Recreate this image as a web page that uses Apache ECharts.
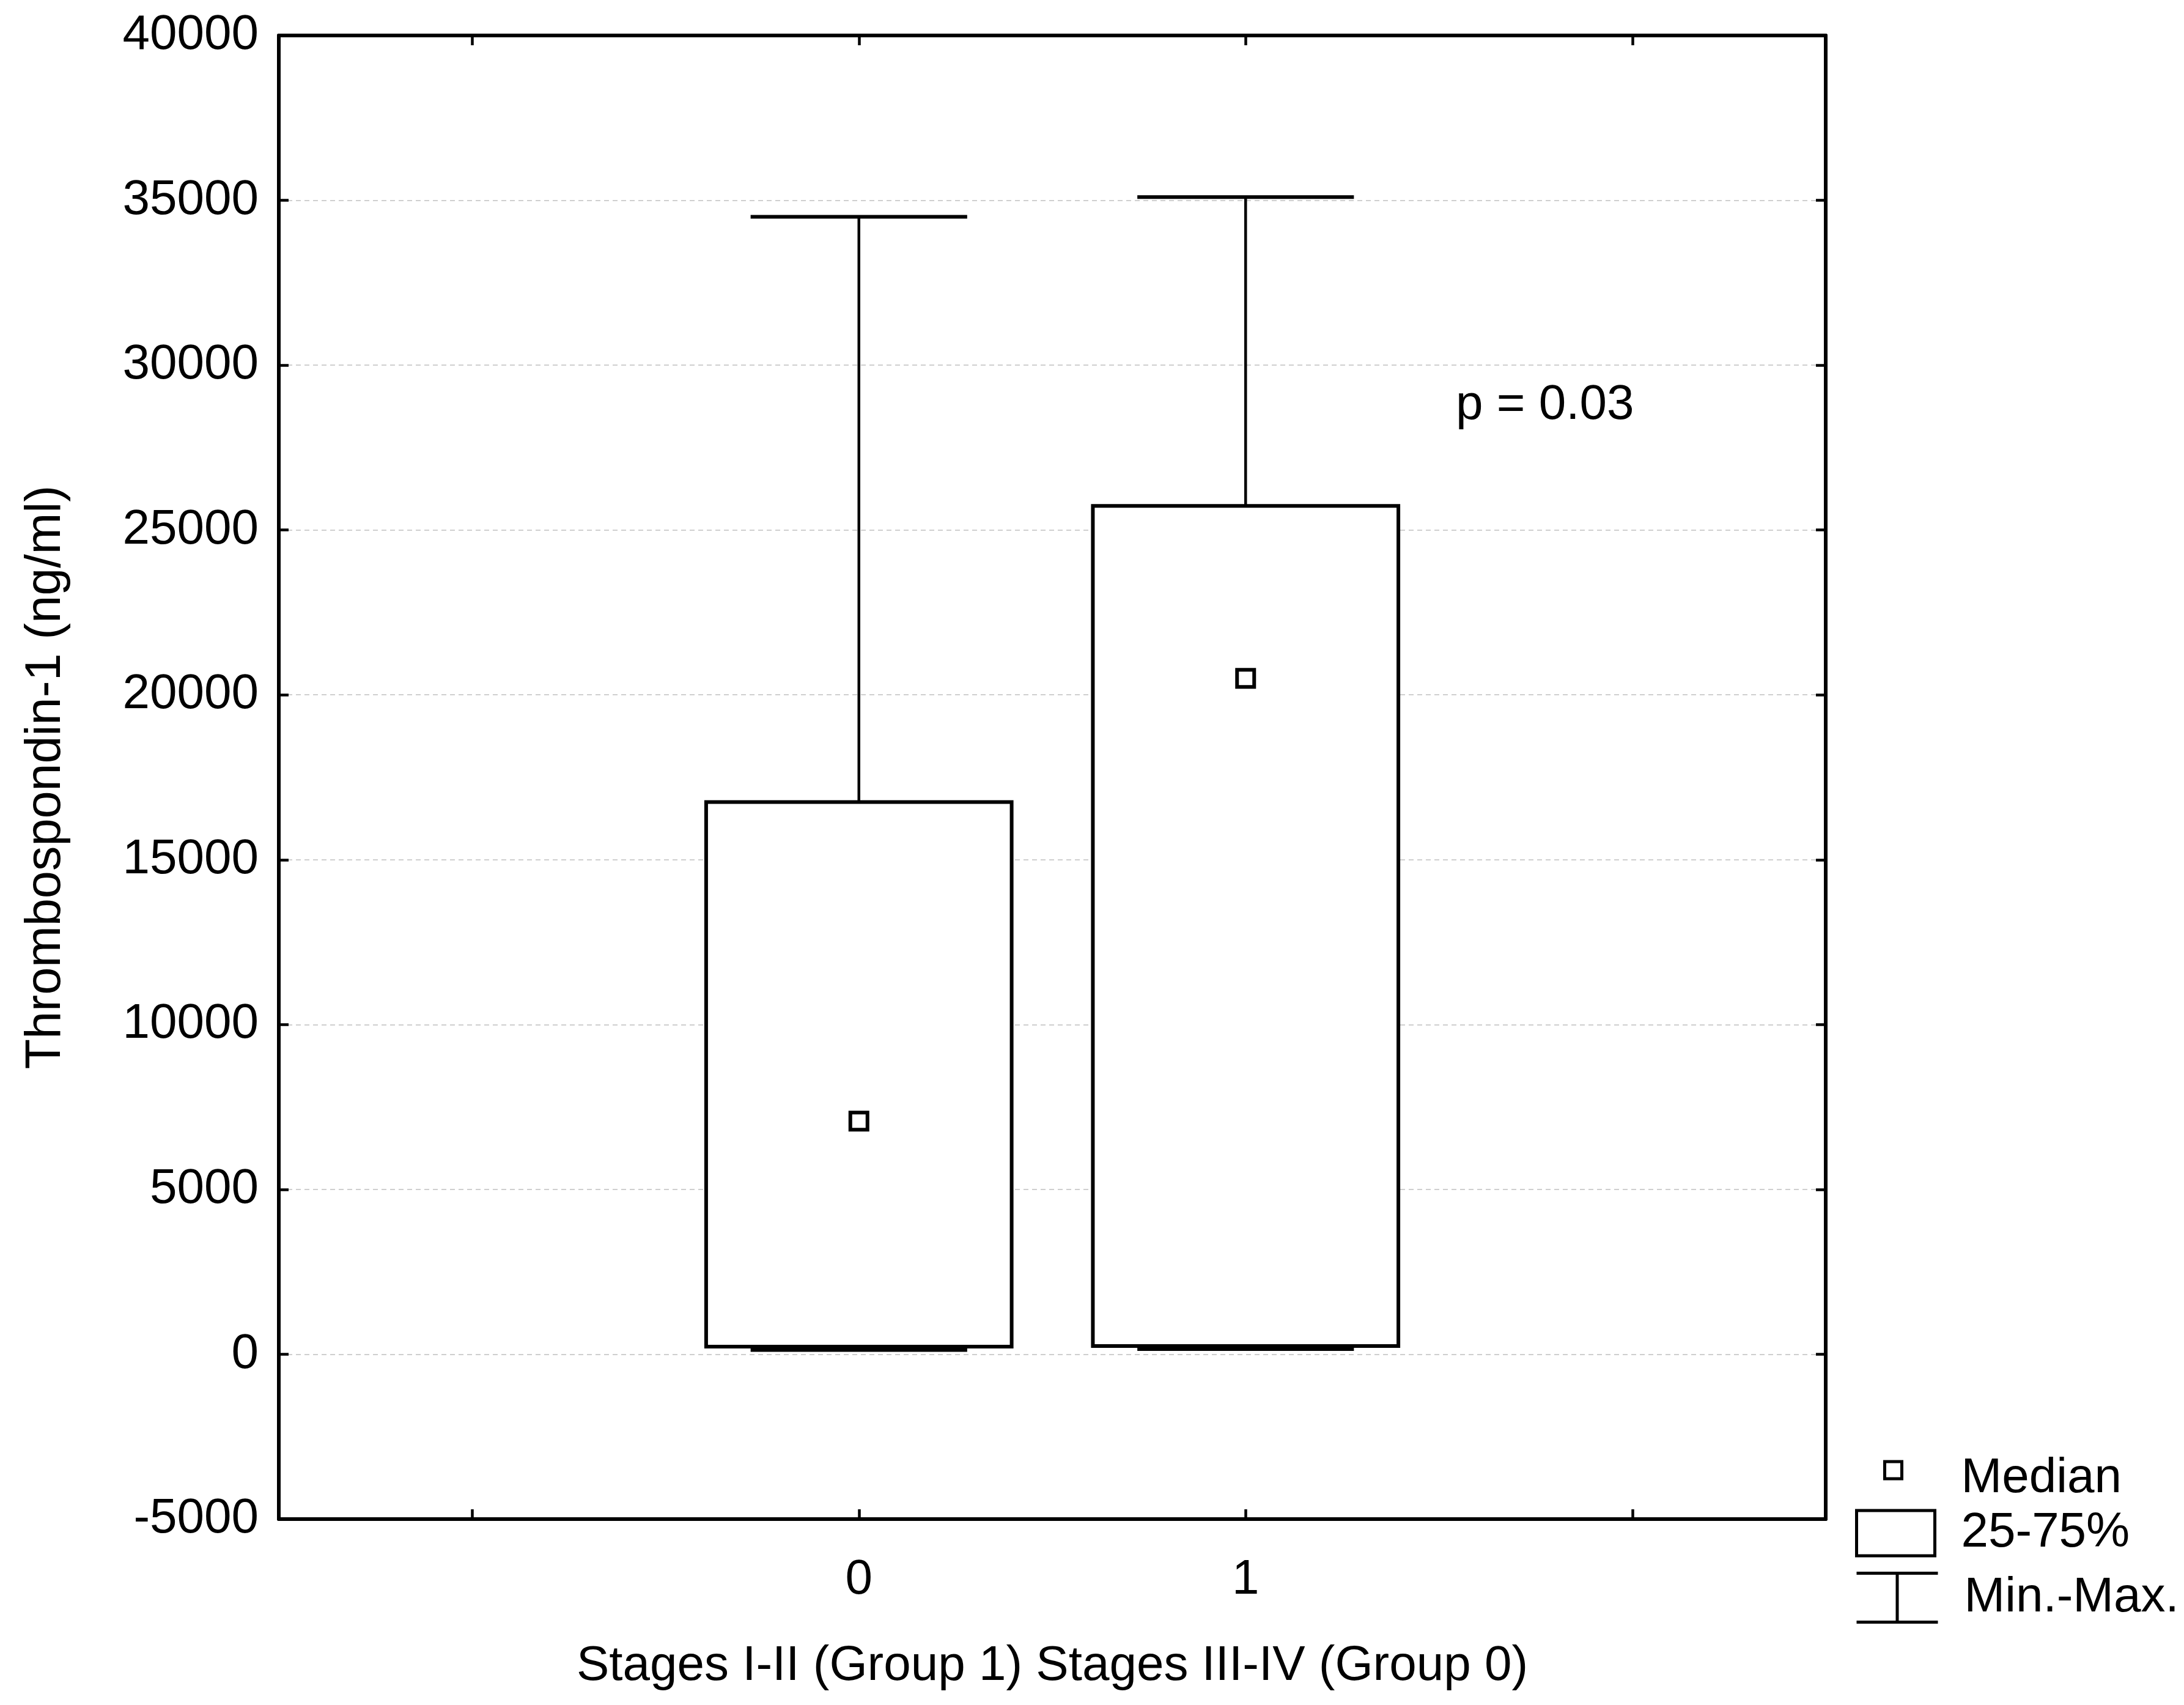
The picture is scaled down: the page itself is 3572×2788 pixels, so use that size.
<!DOCTYPE html>
<html>
<head>
<meta charset="utf-8">
<script src="https://cdn.jsdelivr.net/npm/echarts@6/dist/echarts.min.js"></script>
<style>
html,body{margin:0;padding:0;background:#fff;}
#chart{width:3572px;height:2788px;}
</style>
</head>
<body>
<div id="chart"></div>
<script>
// ---- data ----
const categories = ['', '0', '1', ' '];          // x tick labels (outer ticks unlabeled)
const groups = ['0', '1'];
const minVals = [130, 155];
const q1Vals = [230, 250];
const medianVals = [7070, 20500];
const q3Vals = [16750, 25730];
const maxVals = [34500, 35100];
const yTicks = { min: -5000, max: 40000, step: 5000 };
const pValueText = 'p = 0.03';
const yName = 'Thrombospondin-1 (ng/ml)';
const xName = 'Stages I-II (Group 1) Stages III-IV (Group 0)';

const FONT = "'Liberation Sans', Arial, Helvetica, sans-serif";
const groupIdx = groups.map(g => categories.indexOf(g));

const whiskerData = groupIdx.map((x, i) => [x, minVals[i], maxVals[i]]);
const boxData = groupIdx.map((x, i) => [x, q1Vals[i], q3Vals[i]]);
const medianData = groupIdx.map((x, i) => [x, medianVals[i]]);

function renderWhisker(params, api) {
  const x = api.value(0);
  const pMin = api.coord([x, api.value(1)]);
  const pMax = api.coord([x, api.value(2)]);
  const band = api.size([1, 0])[0];
  const half = band * 0.28;
  return {
    type: 'group',
    children: [
      { type: 'line', shape: { x1: pMin[0], y1: pMin[1], x2: pMax[0], y2: pMax[1] }, style: { stroke: '#000', lineWidth: 4.5 } },
      { type: 'line', shape: { x1: pMax[0] - half, y1: pMax[1], x2: pMax[0] + half, y2: pMax[1] }, style: { stroke: '#000', lineWidth: 6 } },
      { type: 'line', shape: { x1: pMin[0] - half, y1: pMin[1], x2: pMin[0] + half, y2: pMin[1] }, style: { stroke: '#000', lineWidth: 6 } }
    ]
  };
}

function renderBox(params, api) {
  const x = api.value(0);
  const pLo = api.coord([x, api.value(1)]);
  const pHi = api.coord([x, api.value(2)]);
  const band = api.size([1, 0])[0];
  const w = band * 0.79;
  return {
    type: 'rect',
    shape: { x: pLo[0] - w / 2, y: pHi[1], width: w, height: pLo[1] - pHi[1] },
    style: { fill: '#fff', stroke: '#000', lineWidth: 6 }
  };
}

const chart = echarts.init(document.getElementById('chart'), null, { renderer: 'canvas' });

const axisLineStyle = { color: '#000', width: 6 };
const tickStyle = { show: true, inside: true, length: 16, lineStyle: { color: '#000', width: 4.5 } };

const option = {
  backgroundColor: '#fff',
  animation: false,
  textStyle: { fontFamily: FONT, color: '#000' },
  grid: { left: 456, right: 586, top: 58, bottom: 304, containLabel: false },
  xAxis: [
    {
      type: 'category', data: categories, position: 'bottom', boundaryGap: true,
      axisLine: { show: true, onZero: false, lineStyle: axisLineStyle },
      axisTick: Object.assign({ alignWithLabel: true, interval: 0 }, tickStyle),
      axisLabel: { show: true, interval: 0, margin: 60, fontSize: 80, color: '#000', fontFamily: FONT },
      splitLine: { show: false },
      name: xName, nameLocation: 'middle', nameGap: 201,
      nameTextStyle: { fontSize: 80, color: '#000', fontFamily: FONT }
    },
    {
      type: 'category', data: categories, position: 'top', boundaryGap: true,
      axisLine: { show: true, onZero: false, lineStyle: axisLineStyle },
      axisTick: Object.assign({ alignWithLabel: true, interval: 0 }, tickStyle),
      axisLabel: { show: false },
      splitLine: { show: false }
    }
  ],
  yAxis: [
    {
      type: 'value', position: 'left', min: yTicks.min, max: yTicks.max, interval: yTicks.step,
      axisLine: { show: true, onZero: false, lineStyle: axisLineStyle },
      axisTick: tickStyle,
      axisLabel: { show: true, margin: 33, fontSize: 80, color: '#000', fontFamily: FONT,
                   formatter: v => String(v) },
      splitLine: { show: true, lineStyle: { color: '#cfcfcf', width: 2, type: [8, 6] } },
      name: yName, nameLocation: 'middle', nameGap: 340,
      nameTextStyle: { fontSize: 81, color: '#000', fontFamily: FONT }
    },
    {
      type: 'value', position: 'right', min: yTicks.min, max: yTicks.max, interval: yTicks.step,
      axisLine: { show: true, onZero: false, lineStyle: axisLineStyle },
      axisTick: tickStyle,
      axisLabel: { show: false },
      splitLine: { show: false }
    }
  ],
  legend: [
    {
      data: [{ name: 'Median', icon: 'rect' }],
      left: 3080, top: 2378, padding: 0, itemWidth: 28, itemHeight: 28,
      selectedMode: false,
      formatter: '{t|{name}}',
      itemStyle: { color: '#fff', borderColor: '#000', borderWidth: 5 },
      textStyle: { fontSize: 80, color: '#000', fontFamily: FONT, padding: [0, 0, 0, 92],
        rich: { t: { fontSize: 80, color: '#000', fontFamily: FONT, padding: [28, 0, 0, 0] } } }
    },
    {
      data: [{ name: '25-75%', icon: 'rect' }],
      left: 3034, top: 2467, padding: 0, itemWidth: 128, itemHeight: 74,
      selectedMode: false,
      itemStyle: { color: '#fff', borderColor: '#000', borderWidth: 5 },
      textStyle: { fontSize: 80, color: '#000', fontFamily: FONT, padding: [0, 0, 0, 38] }
    },
    {
      data: [{ name: 'Min.-Max.', icon: 'path://M0,0H133M66.5,0V80M0,80H133' }],
      left: 3034, top: 2570, padding: 0, itemWidth: 133, itemHeight: 80,
      selectedMode: false, symbolKeepAspect: false,
      itemStyle: { color: 'none', borderColor: '#000', borderWidth: 5 },
      textStyle: { fontSize: 80, color: '#000', fontFamily: FONT, padding: [0, 0, 0, 38] }
    }
  ],
  series: [
    {
      name: 'Min.-Max.', type: 'custom', xAxisIndex: 0, yAxisIndex: 0,
      renderItem: renderWhisker, data: whiskerData,
      encode: { x: 0, y: [1, 2] },
      itemStyle: { color: '#fff', borderColor: '#000' }, silent: true, z: 2
    },
    {
      name: '25-75%', type: 'custom', xAxisIndex: 0, yAxisIndex: 0,
      renderItem: renderBox, data: boxData,
      encode: { x: 0, y: [1, 2] },
      itemStyle: { color: '#fff', borderColor: '#000' }, silent: true, z: 3
    },
    {
      name: 'Median', type: 'scatter', xAxisIndex: 0, yAxisIndex: 0,
      data: medianData, symbol: 'rect', symbolSize: 28,
      itemStyle: { color: '#fff', borderColor: '#000', borderWidth: 6, opacity: 1 },
      silent: true, z: 4
    }
  ],
  graphic: [
    {
      type: 'text', left: 2381, top: 623, z: 10,
      style: { text: pValueText, fontSize: 80, fill: '#000', fontFamily: FONT }
    }
  ]
};

chart.setOption(option);
</script>
</body>
</html>
